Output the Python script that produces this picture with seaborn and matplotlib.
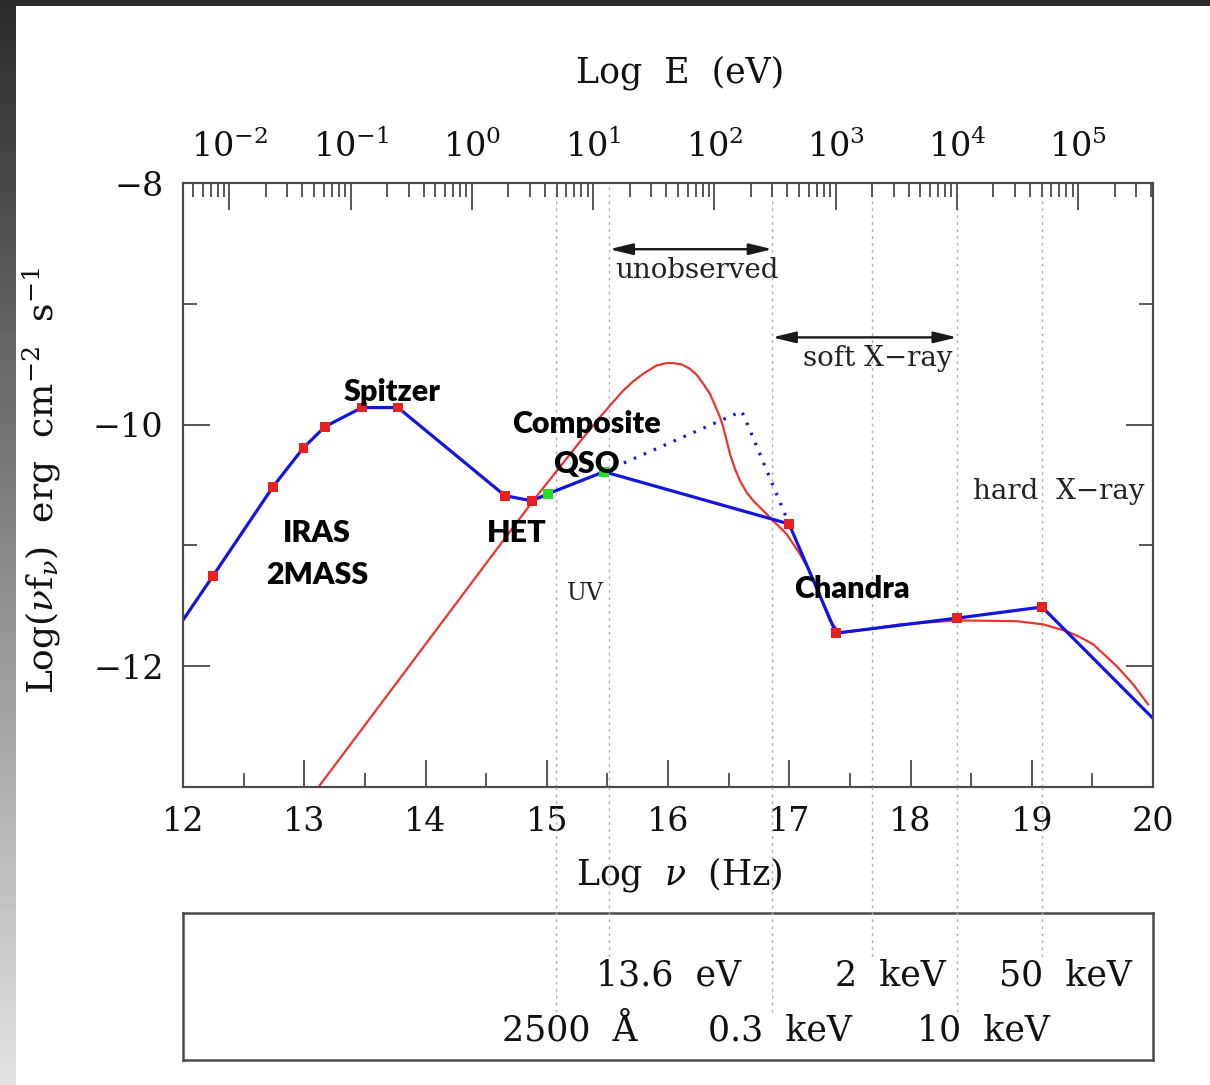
import numpy as np
import matplotlib
matplotlib.use("Agg")
import matplotlib.pyplot as plt
import seaborn as sns
from matplotlib.ticker import MultipleLocator, LogLocator, NullFormatter
from matplotlib.lines import Line2D
from matplotlib.patches import Rectangle
import matplotlib.transforms as mtransforms

# ---------------- data ----------------
# observed SED (blue broken line), log nu [Hz] vs log(nu f_nu)
sed_lognu = [12.00, 12.247, 12.742, 12.994, 13.171, 13.476, 13.773, 14.656,
             14.878, 15.010, 15.472, 16.998, 17.386, 18.384, 19.085, 20.00]
sed_logf = [-11.618, -11.253, -10.515, -10.191, -10.017, -9.859, -9.859, -10.589,
            -10.631, -10.573, -10.390, -10.822, -11.726, -11.602, -11.510, -12.432]

# photometric points (red squares)
red_lognu = [12.247, 12.742, 12.994, 13.171, 13.476, 13.773, 14.656, 14.878,
             16.998, 17.386, 18.384, 19.085]
red_logf = [-11.253, -10.515, -10.191, -10.017, -9.859, -9.859, -10.589, -10.631,
            -10.822, -11.726, -11.602, -11.510]

# HET points (green squares)
green_lognu = [15.010, 15.472]
green_logf = [-10.573, -10.390]

# composite QSO extrapolation (blue dotted)
qso_lognu = [15.472, 16.608, 16.660, 16.998]
qso_logf = [-10.390, -9.890, -10.008, -10.822]

# model spectrum (red curve)
model_lognu = [13.11, 14.887, 15.274, 15.439, 15.522, 15.631, 15.714, 15.796,
               15.907, 15.989, 16.044, 16.113, 16.181, 16.237, 16.291, 16.346,
               16.388, 16.429, 16.456, 16.484, 16.511, 16.553, 16.594, 16.649,
               16.704, 16.773, 16.841, 16.910, 16.979, 17.088, 17.160, 17.226,
               17.336, 17.419, 17.639, 17.913, 18.381, 18.876, 19.095, 19.288,
               19.398, 19.508, 19.701, 19.838, 19.961]
model_logf = [-13.01, -10.631, -10.141, -9.939, -9.842, -9.718, -9.641, -9.579,
              -9.510, -9.491, -9.491, -9.502, -9.538, -9.588, -9.662, -9.745,
              -9.842, -9.939, -10.022, -10.133, -10.243, -10.368, -10.465, -10.562,
              -10.631, -10.700, -10.769, -10.838, -10.907, -11.071, -11.200, -11.350,
              -11.627, -11.724, -11.696, -11.654, -11.621, -11.627, -11.654, -11.710,
              -11.759, -11.820, -12.000, -12.152, -12.318]

# reference frequencies (vertical dotted lines) and their labels
ref_lognu = [15.079, 15.517, 16.860, 17.685, 18.384, 19.083]
ref_row = [2, 1, 2, 1, 2, 1]
ref_labels = ["2500  Å", "13.6  eV", "0.3  keV", "2  keV", "10  keV", "50  keV"]
ref_label_x = [15.19, 16.00, 16.92, 17.83, 18.60, 19.28]

band_labels = ["unobserved", "soft X\u2212ray", "hard  X\u2212ray", "UV"]
band_text_xy = [(16.239, -8.722), (17.732, -9.452), (19.225, -10.556), (15.315, -11.402)]
band_text_size = [20, 20, 20, 17]
arrow_ranges = [(15.517, 16.860), (16.860, 18.384)]
arrow_y = [-8.548, -9.278]

inst_labels = ["Spitzer", "Composite", "QSO", "IRAS", "2MASS", "HET", "Chandra"]
inst_xy = [(13.724, -9.726), (15.324, -9.992), (15.324, -10.324), (13.105, -10.896),
           (13.105, -11.245), (14.755, -10.896), (17.518, -11.361)]

LOG_H_EV = -14.3834  # log10 of Planck constant in eV s

# ---------------- styling ----------------
sns.set_theme(style="white")
plt.rcParams["font.family"] = ["DejaVu Serif", "DejaVu Sans"]
plt.rcParams["mathtext.fontset"] = "dejavuserif"
plt.rcParams["axes.unicode_minus"] = True

W, H = 1210, 1085
fig = plt.figure(figsize=(W / 100, H / 100), dpi=100, facecolor="white")

# frame decoration (dark top band, gradient left band)
bg = fig.add_axes([0, 0, 1, 1], zorder=-10)
bg.set_xlim(0, W)
bg.set_ylim(H, 0)
bg.axis("off")
grad = np.linspace(43, 226, 256)[:, None] / 255.0
bg.imshow(grad, cmap="gray", vmin=0, vmax=1, extent=[0, 16, H, 0], aspect="auto")
bg.add_patch(Rectangle((0, 0), W, 6, color="#2b2b2b", lw=0))

def fx(px):
    return px / W

def fy(py):
    return (H - py) / H

spine_c = "#4a4a4a"
txt_c = "#111111"
ax = fig.add_axes([fx(183), fy(787), (1153 - 183) / W, (787 - 183) / H])
ax.set_facecolor("white")
for s in ax.spines.values():
    s.set_color(spine_c)
    s.set_linewidth(1.5)
    s.set_visible(True)

ax.set_xlim(12, 20)
ax.set_ylim(-13, -8)

# vertical reference lines inside the plot
for xv in ref_lognu:
    ax.axvline(xv, color="#b0b0b0", lw=1.0, ls=(0, (2, 3)), zorder=0.5)

# model curve
sns.lineplot(x=model_lognu, y=model_logf, ax=ax, sort=False, estimator=None,
             color="#e8352e", lw=1.6, zorder=2)
# composite QSO dotted
sns.lineplot(x=qso_lognu, y=qso_logf, ax=ax, sort=False, estimator=None,
             color="#1818d8", lw=2.3, linestyle=(0, (0.8, 2.6)), zorder=3)
# observed SED
sns.lineplot(x=sed_lognu, y=sed_logf, ax=ax, sort=False, estimator=None,
             color="#1414e0", lw=2.3, zorder=4)
sns.scatterplot(x=red_lognu, y=red_logf, ax=ax, marker="s", s=50,
                color="#e82020", edgecolor="none", zorder=5)
sns.scatterplot(x=green_lognu, y=green_logf, ax=ax, marker="s", s=50,
                color="#22e022", edgecolor="none", zorder=5)

# ticks
ax.xaxis.set_major_locator(MultipleLocator(1))
ax.xaxis.set_minor_locator(MultipleLocator(0.5))
ax.yaxis.set_major_locator(MultipleLocator(2))
ax.yaxis.set_minor_locator(MultipleLocator(1))
ax.tick_params(axis="both", which="both", direction="in", color=spine_c,
               left=True, right=True, bottom=True, top=False)
ax.tick_params(axis="both", which="major", length=19.5, width=1.3, labelsize=24,
               labelcolor=txt_c)
ax.tick_params(axis="both", which="minor", length=10, width=1.3)
ax.tick_params(axis="x", which="major", pad=14)
ax.tick_params(axis="y", which="major", pad=14)

ax.set_xlabel(r"Log  $\nu$  (Hz)", fontsize=25, color=txt_c)
ax.xaxis.set_label_coords(0.512, -0.113)
ax.set_ylabel(r"Log($\nu$f$_\nu$)  erg  cm$^{-2}$  s$^{-1}$", fontsize=26, color=txt_c)
ax.yaxis.set_label_coords(-0.124, 0.507)

# top energy axis
ax2 = ax.twiny()
ax2.set_xscale("log")
ax2.set_xlim(10 ** (12 + LOG_H_EV), 10 ** (20 + LOG_H_EV))
ax2.xaxis.set_major_locator(LogLocator(base=10, numticks=30))
ax2.xaxis.set_minor_locator(LogLocator(base=10, subs=np.arange(2, 10), numticks=100))
ax2.xaxis.set_minor_formatter(NullFormatter())
ax2.tick_params(axis="x", which="both", direction="in", color=spine_c, top=True, bottom=False)
ax2.tick_params(axis="x", which="major", length=19.5, width=1.3, labelsize=24,
                pad=14, labelcolor=txt_c)
ax2.tick_params(axis="x", which="minor", length=10, width=1.3)
ax2.set_xlabel("Log  E  (eV)", fontsize=25, color=txt_c)
ax2.xaxis.set_label_coords(0.512, 1.166)
for s in ax2.spines.values():
    s.set_color(spine_c)
    s.set_linewidth(1.5)

# band arrows and labels
for (x0, x1), ya in zip(arrow_ranges, arrow_y):
    ax.annotate("", xy=(x0, ya), xytext=(x1, ya),
                arrowprops=dict(arrowstyle="<|-|>,head_length=0.7,head_width=0.17",
                                color="#1a1a1a", lw=1.7, mutation_scale=20,
                                shrinkA=0, shrinkB=0), zorder=6)
for lab, (tx, ty), fs in zip(band_labels, band_text_xy, band_text_size):
    ax.text(tx, ty, lab, fontsize=fs, ha="center", va="center", color="#222222", zorder=6)

for lab, (tx, ty) in zip(inst_labels, inst_xy):
    ax.text(tx, ty, lab, fontsize=22, fontfamily="Lato", fontweight="heavy",
            ha="center", va="center", color="black", zorder=7)

# lower box with reference energies
bax = fig.add_axes([fx(183), fy(1060), (1153 - 183) / W, (1060 - 913) / H])
bax.set_xlim(12, 20)
bax.set_ylim(0, 1)
bax.set_xticks([])
bax.set_yticks([])
bax.set_facecolor("none")
for s in bax.spines.values():
    s.set_color(spine_c)
    s.set_linewidth(1.8)
    s.set_visible(True)

row_y = {1: 0.578, 2: 0.204}
for lab, lx, r in zip(ref_labels, ref_label_x, ref_row):
    bax.text(lx, row_y[r], lab, fontsize=25, ha="center", va="center", color=txt_c)

# dotted guide lines from the plot down into the box
trans = mtransforms.blended_transform_factory(ax.transData, fig.transFigure)
for xv, r in zip(ref_lognu, ref_row):
    yend = fy(960) if r == 1 else fy(1013)
    fig.add_artist(Line2D([xv, xv], [fy(787), yend], transform=trans,
                          color="#b0b0b0", lw=1.0, ls=(0, (2, 3)), zorder=0.5))

fig.savefig("out.png", dpi=100, facecolor="white")
